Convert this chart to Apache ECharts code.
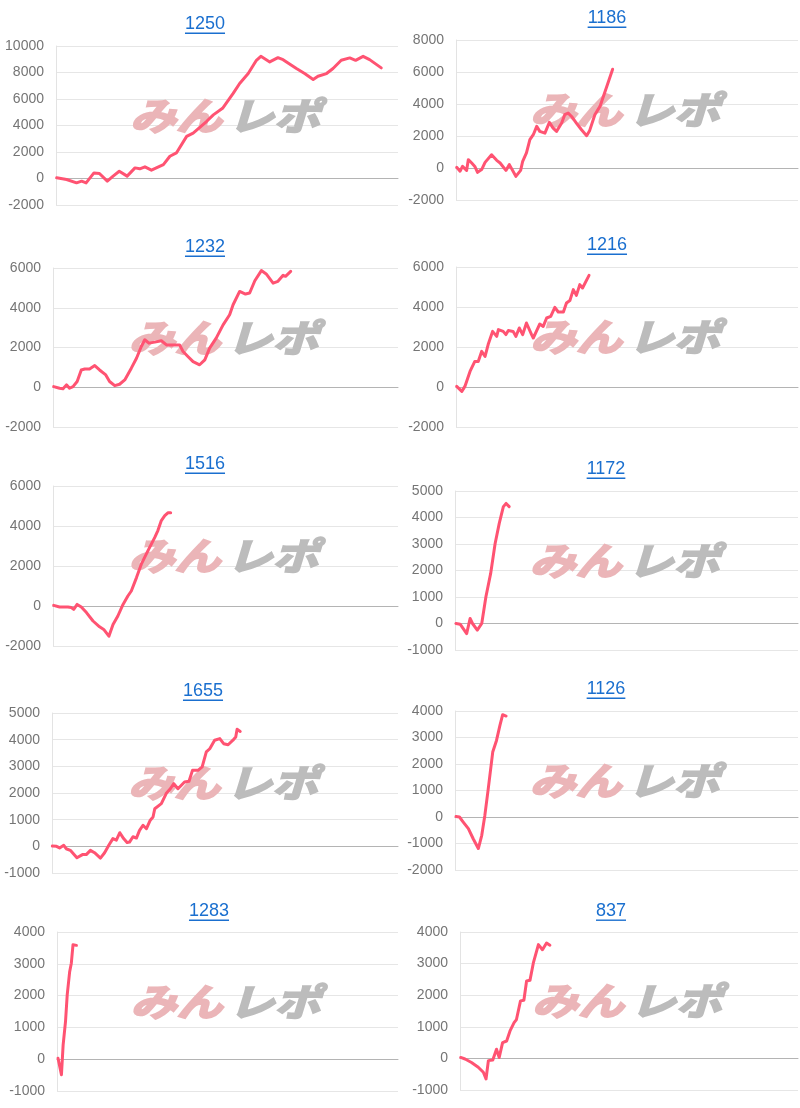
<!DOCTYPE html>
<html><head><meta charset="utf-8">
<script src="https://cdn.jsdelivr.net/npm/echarts@6/dist/echarts.min.js"></script>
<style>html,body{margin:0;padding:0;background:#fff}#c{width:800px;height:1108px}</style>
</head><body><div id="c"></div>
<script>
// ---- data ----
const titles = ['1250','1186','1232','1216','1516','1172','1655','1126','1283','837'];
const yMin  = [-2000,-2000,-2000,-2000,-2000,-1000,-1000,-2000,-1000,-1000];
const yMax  = [10000,8000,6000,6000,6000,5000,5000,4000,4000,4000];
const yStep = [2000,2000,2000,2000,2000,1000,1000,1000,1000,1000];
const xMax = 1000;

const p1 = [[2,50],[31,-75],[60,-330],[75,-200],[88,-330],[111,420],[127,380],[150,-200],[167,180],[185,550],[208,180],[231,800],[245,730],[260,880],[279,630],[314,1050],[333,1680],[352,1930],[382,3180],[401,3430],[440,4300],[460,4800],[487,5300],[518,6420],[537,7170],[562,7920],[586,8920],[599,9220],[625,8800],[649,9120],[664,8970],[703,8300],[727,7920],[752,7470],[766,7720],[791,7920],[810,8300],[834,8920],[859,9100],[876,8920],[898,9220],[917,8970],[951,8350]];
const p2 = [[2,40],[12,-200],[19,100],[31,-150],[36,520],[46,310],[55,100],[63,-270],[75,-100],[85,350],[104,830],[119,480],[129,310],[146,-150],[156,210],[175,-520],[189,-150],[195,420],[206,940],[216,1770],[226,2080],[236,2600],[245,2290],[260,2180],[273,2850],[284,2490],[294,2290],[309,2810],[318,3330],[328,3430],[338,3220],[352,2810],[367,2390],[382,2020],[391,2350],[406,3330],[421,3850],[458,6170]];
const p3 = [[2,30],[19,-50],[29,-80],[39,120],[48,-50],[58,30],[70,290],[82,870],[92,920],[106,920],[121,1090],[135,870],[153,620],[164,290],[179,80],[193,150],[208,370],[227,960],[242,1460],[256,2050],[266,2390],[278,2220],[295,2270],[314,2340],[329,2130],[348,2130],[367,2130],[377,1800],[391,1550],[406,1290],[425,1130],[440,1380],[454,1970],[473,2470],[493,3140],[512,3650],[522,4150],[541,4820],[558,4690],[570,4740],[585,5360],[604,5870],[618,5700],[638,5240],[652,5330],[657,5360],[667,5630],[674,5580],[689,5830]];
const p4 = [[2,30],[17,-220],[26,30],[41,780],[55,1280],[65,1280],[75,1780],[85,1530],[94,2120],[107,2780],[119,2530],[124,2870],[138,2780],[146,2620],[153,2820],[167,2780],[175,2530],[185,2950],[195,2620],[206,3200],[221,2620],[226,2450],[236,2820],[245,3150],[255,3030],[265,3450],[277,3530],[289,3980],[299,3750],[314,3750],[323,4200],[333,4320],[343,4870],[352,4580],[362,5120],[370,4950],[389,5580]];
const p5 = [[2,30],[19,-50],[43,-50],[53,-80],[60,-170],[70,80],[82,-50],[97,-330],[116,-750],[135,-1040],[147,-1170],[162,-1510],[174,-920],[188,-500],[203,80],[217,500],[227,750],[242,1420],[256,2090],[275,2760],[295,3430],[304,3770],[314,4270],[324,4520],[333,4660],[341,4660]];
const p6 = [[3,0],[15,-25],[34,-380],[44,190],[51,0],[65,-250],[78,0],[90,1000],[104,1890],[117,3020],[129,3780],[141,4410],[149,4530],[158,4410]];
const p7 = [[1,10],[13,0],[22,-60],[34,40],[41,-90],[53,-150],[72,-430],[88,-310],[99,-310],[111,-150],[123,-240],[140,-440],[152,-240],[165,60],[176,290],[186,230],[196,510],[207,290],[217,140],[224,160],[234,360],[244,310],[253,600],[263,790],[273,660],[284,980],[292,1100],[297,1410],[316,1600],[330,1980],[342,2160],[352,2350],[364,2160],[383,2410],[396,2440],[406,2850],[422,2850],[434,2980],[446,3540],[456,3660],[470,3980],[485,4040],[496,3850],[509,3810],[523,3980],[531,4100],[535,4390],[544,4310]];
const p8 = [[3,20],[13,0],[24,-190],[39,-440],[53,-820],[68,-1190],[78,-690],[87,60],[97,1070],[110,2450],[121,2890],[131,3460],[139,3860],[149,3810]];
const p9 = [[3,30],[13,-490],[18,450],[25,1190],[30,2030],[37,2740],[42,3020],[45,3020],[47,3600],[57,3580]];
const p10 = [[2,30],[15,-20],[34,-130],[54,-280],[69,-440],[77,-650],[84,-70],[97,-50],[108,290],[116,30],[126,500],[138,550],[148,870],[160,1130],[167,1230],[179,1820],[189,1840],[197,2450],[207,2470],[217,3020],[232,3600],[244,3440],[256,3650],[266,3580]];
const seriesData = [p1,p2,p3,p4,p5,p6,p7,p8,p9,p10];

// ---- layout ----
const boxes = [
  {l:56,t:46,w:342,h:159},{l:456,t:40,w:342,h:160},
  {l:53,t:268,w:345,h:159},{l:456,t:267,w:342,h:160},
  {l:53,t:486,w:345,h:160},{l:455,t:491,w:343,h:159},
  {l:52,t:713,w:346,h:160},{l:455,t:711,w:343,h:159},
  {l:57,t:932,w:341,h:159},{l:460,t:932,w:338,h:158}
];
const titlePos = [[205,24],[607,18],[205,247],[607,245],[205,464],[606,469],[203,691],[606,689],[209,911],[611,911]];

const LINK = '#1a6fcf';
const TFONT = '18px "Liberation Sans", Arial, sans-serif';
const WFONT = 'italic bold 46px "Noto Sans CJK JP", sans-serif';
const PINK = '#ebb5b8', GREY = '#bcbcbc';
const mctx = document.createElement('canvas').getContext('2d');
mctx.font = TFONT;

const grid = [], xAxis = [], yAxis = [], series = [], graphic = [];
boxes.forEach((b, i) => {
  grid.push({left:b.l, top:b.t, width:b.w, height:b.h, containLabel:false});
  xAxis.push({type:'value', gridIndex:i, min:0, max:xMax, show:true,
    axisLine:{show:true, onZero:true, lineStyle:{color:'#b4b4b4', width:1}},
    axisTick:{show:false}, axisLabel:{show:false}, splitLine:{show:false}});
  yAxis.push({type:'value', gridIndex:i, min:yMin[i], max:yMax[i], interval:yStep[i],
    axisLine:{show:true, lineStyle:{color:'#e3e3e3'}},
    axisTick:{show:false},
    axisLabel:{color:'#757575', fontSize:14, fontFamily:'"Liberation Sans", Arial, sans-serif', margin:12,
      formatter: v => String(v)},
    splitLine:{show:true, lineStyle:{color:'#e6e6e6', width:1}}});
  series.push({type:'line', xAxisIndex:i, yAxisIndex:i, data:seriesData[i],
    showSymbol:false, symbol:'none', silent:true, z:3,
    lineStyle:{color:'#ff5372', width:3, join:'round', cap:'round'}});
  // watermark
  const cx = b.l + b.w/2 - 2, cy = b.t + b.h/2 - 10;
  graphic.push({type:'text', z:1, silent:true, x:cx-3, y:cy, scaleY:0.82,
    style:{text:'みん', textAlign:'right', textVerticalAlign:'middle', textBaseline:'middle',
      font:WFONT, fill:PINK, stroke:PINK, lineWidth:2.5}});
  graphic.push({type:'text', z:1, silent:true, x:cx+3, y:cy, scaleY:0.82,
    style:{text:'レポ', textAlign:'left', textVerticalAlign:'middle', textBaseline:'middle',
      font:WFONT, fill:GREY, stroke:GREY, lineWidth:2.5}});
  // title
  const [tx, ty] = titlePos[i];
  graphic.push({type:'text', z:5, silent:true, x:tx, y:ty,
    style:{text:titles[i], textAlign:'center', textVerticalAlign:'middle', textBaseline:'middle',
      font:TFONT, fill:LINK}});
  const tw = mctx.measureText(titles[i]).width;
  graphic.push({type:'rect', z:5, silent:true,
    shape:{x:tx - tw/2, y:ty + 8.5, width:tw, height:1.4}, style:{fill:LINK}});
});

const chart = echarts.init(document.getElementById('c'), null, {renderer:'canvas', width:800, height:1108});
chart.setOption({animation:false, backgroundColor:'#ffffff', grid, xAxis, yAxis, series, graphic});
</script></body></html>
